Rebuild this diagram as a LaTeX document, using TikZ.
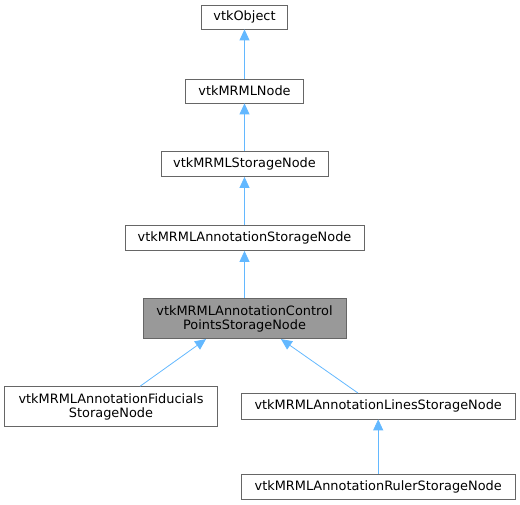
\documentclass[tikz,border=0pt]{standalone}
\usepackage{fontspec}
\setmainfont{DejaVu Sans}
\usetikzlibrary{arrows.meta}
\definecolor{edgeblue}{HTML}{63B8FF}
\definecolor{boxgray}{HTML}{666666}
\definecolor{fillgray}{HTML}{999999}
\begin{document}
\begin{tikzpicture}[x=1pt,y=-1pt,
  cls/.style={draw=boxgray, fill=white, line width=0.8pt, inner sep=0pt, font=\fontsize{12.9}{14.5}\selectfont, align=center},
  inh/.style={draw=edgeblue, line width=0.8pt, {Triangle[width=10pt,length=11pt]}-}]
\useasboundingbox (0,0) rectangle (520,505);
\node[cls, minimum width=86, minimum height=24] (obj) at (244.5,17) {vtkObject};
\node[cls, minimum width=118, minimum height=24] (node) at (244.5,91) {vtkMRMLNode};
\node[cls, minimum width=167, minimum height=25] (stor) at (244.5,164) {vtkMRMLStorageNode};
\node[cls, minimum width=239, minimum height=25] (astor) at (244.5,238) {vtkMRMLAnnotationStorageNode};
\node[cls, fill=fillgray, minimum width=203, minimum height=40] (cp) at (244.5,318.7) {vtkMRMLAnnotationControl\\PointsStorageNode};
\node[cls, minimum width=213, minimum height=40] (fid) at (111,406.7) {vtkMRMLAnnotationFiducials\\StorageNode};
\node[cls, minimum width=274, minimum height=25.5] (lines) at (378.2,406.2) {vtkMRMLAnnotationLinesStorageNode};
\node[cls, minimum width=274, minimum height=25] (ruler) at (378.2,487) {vtkMRMLAnnotationRulerStorageNode};
\draw[inh] (obj.south) -- (node.north);
\draw[inh] (node.south) -- (stor.north);
\draw[inh] (stor.south) -- (astor.north);
\draw[inh] (astor.south) -- (cp.north);
\draw[inh] (cp.south -| 206,0) -- (fid.north -| 140,0);
\draw[inh] (cp.south -| 281,0) -- (lines.north -| 358,0);
\draw[inh] (lines.south) -- (ruler.north);
\end{tikzpicture}
\end{document}
